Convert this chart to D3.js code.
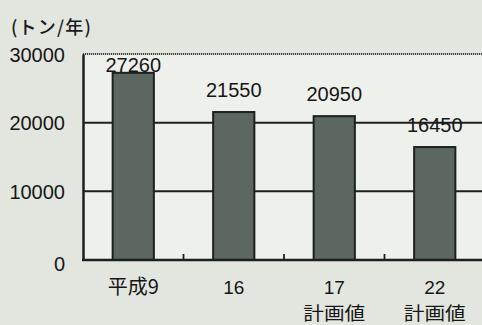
<!DOCTYPE html>
<html>
<head>
<meta charset="utf-8">
<script src="https://cdn.jsdelivr.net/npm/d3@7"></script>
<style>
  html, body { margin: 0; padding: 0; background: #e3e6df; }
  svg { display: block; }
</style>
</head>
<body>
<svg id="chart" width="482" height="325"></svg>
<script>
// 年間処理量（トン/年）
const categories = ["平成9", "16", "17", "22"];
const subLabels = ["", "", "計画値", "計画値"];
const values = [27260, 21550, 20950, 16450];
const yTicks = [0, 10000, 20000, 30000];
const unitLabel = "(トン/年)";

const W = 482, H = 325;
const margin = { top: 54, right: -3, bottom: 65, left: 83 };
const svg = d3.select("#chart");

const x = d3.scaleBand()
  .domain(categories)
  .range([margin.left, W - margin.right])
  .paddingInner(0.59)
  .paddingOuter(0.295);

const y = d3.scaleLinear()
  .domain([0, 30000])
  .range([H - margin.bottom, margin.top]);

const ink = "#1b211e";
const font = "'Liberation Sans', Arial, sans-serif";
const cjk = "'Noto Sans CJK JP', sans-serif";

// plot panel
svg.append("rect")
  .attr("x", margin.left).attr("y", y(30000))
  .attr("width", W - margin.right - margin.left)
  .attr("height", y(0) - y(30000))
  .attr("fill", "#eef0eb");

// horizontal grid lines
svg.append("g")
  .selectAll("line")
  .data(yTicks.filter(d => d > 0 && d < 30000))
  .join("line")
  .attr("x1", margin.left).attr("x2", W)
  .attr("y1", d => y(d)).attr("y2", d => y(d))
  .attr("stroke", ink).attr("stroke-width", 2);

// top frame line (dotted)
svg.append("line")
  .attr("x1", margin.left).attr("x2", W)
  .attr("y1", y(30000)).attr("y2", y(30000))
  .attr("stroke", "#3a403c").attr("stroke-width", 2.2)
  .attr("stroke-dasharray", "1.2,0.8");

// bars
svg.append("g")
  .selectAll("rect")
  .data(values)
  .join("rect")
  .attr("x", (d, i) => x(categories[i]))
  .attr("y", d => y(d))
  .attr("width", x.bandwidth())
  .attr("height", d => y(0) - y(d))
  .attr("fill", "#5d6761")
  .attr("stroke", ink)
  .attr("stroke-width", 2);

// y axis
const yAxis = d3.axisLeft(y).tickValues(yTicks).tickFormat(d3.format("d"))
  .tickSize(0).tickPadding(18);
const gy = svg.append("g")
  .attr("transform", `translate(${margin.left},0)`)
  .call(yAxis);
gy.select(".domain").attr("stroke", ink).attr("stroke-width", 2.5);
gy.selectAll("text")
  .attr("font-family", font).attr("font-size", 20)
  .attr("fill", "#161616").attr("dy", "0.36em");
gy.selectAll(".tick").filter(d => d === 0).select("text").attr("dy", "0.5em");

// x axis with inward ticks at category boundaries
const step = x.step();
const bounds = categories.slice(1).map(c => x(c) - (step - x.bandwidth()) / 2);
svg.append("g")
  .selectAll("line")
  .data(bounds)
  .join("line")
  .attr("x1", d => d).attr("x2", d => d)
  .attr("y1", y(0)).attr("y2", y(0) - 6)
  .attr("stroke", ink).attr("stroke-width", 1.8);
svg.append("line")
  .attr("x1", margin.left - 1).attr("x2", W)
  .attr("y1", y(0)).attr("y2", y(0))
  .attr("stroke", ink).attr("stroke-width", 2.5);

// category labels (two lines for planned values)
const xl = svg.append("g");
categories.forEach((c, i) => {
  const cx = x(c) + x.bandwidth() / 2;
  const isCjk = /[^\x00-\x7f]/.test(c);
  xl.append("text")
    .attr("x", cx).attr("y", 294)
    .attr("text-anchor", "middle")
    .attr("font-family", isCjk ? cjk : font)
    .attr("font-size", isCjk ? 20 : 19)
    .attr("fill", "#161616")
    .text(c);
  if (subLabels[i]) {
    xl.append("text")
      .attr("x", cx).attr("y", 319.6)
      .attr("text-anchor", "middle")
      .attr("font-family", cjk).attr("font-size", 18.5)
      .attr("textLength", 62).attr("lengthAdjust", "spacingAndGlyphs")
      .attr("fill", "#161616")
      .text(subLabels[i]);
  }
});

// value labels above bars, kept below the frame top
svg.append("g")
  .selectAll("text")
  .data(values)
  .join("text")
  .attr("x", (d, i) => x(categories[i]) + x.bandwidth() / 2)
  .attr("y", d => Math.max(y(d) - 15, y(30000) + 18))
  .attr("text-anchor", "middle")
  .attr("font-family", font).attr("font-size", 20)
  .attr("fill", "#161616")
  .text(d => d);

// unit label
svg.append("text")
  .attr("x", 11).attr("y", 34)
  .attr("font-family", cjk).attr("font-size", 18)
  .attr("font-weight", 500)
  .attr("letter-spacing", 1.2)
  .attr("fill", "#1a1a1a")
  .text(unitLabel);
</script>
</body>
</html>
